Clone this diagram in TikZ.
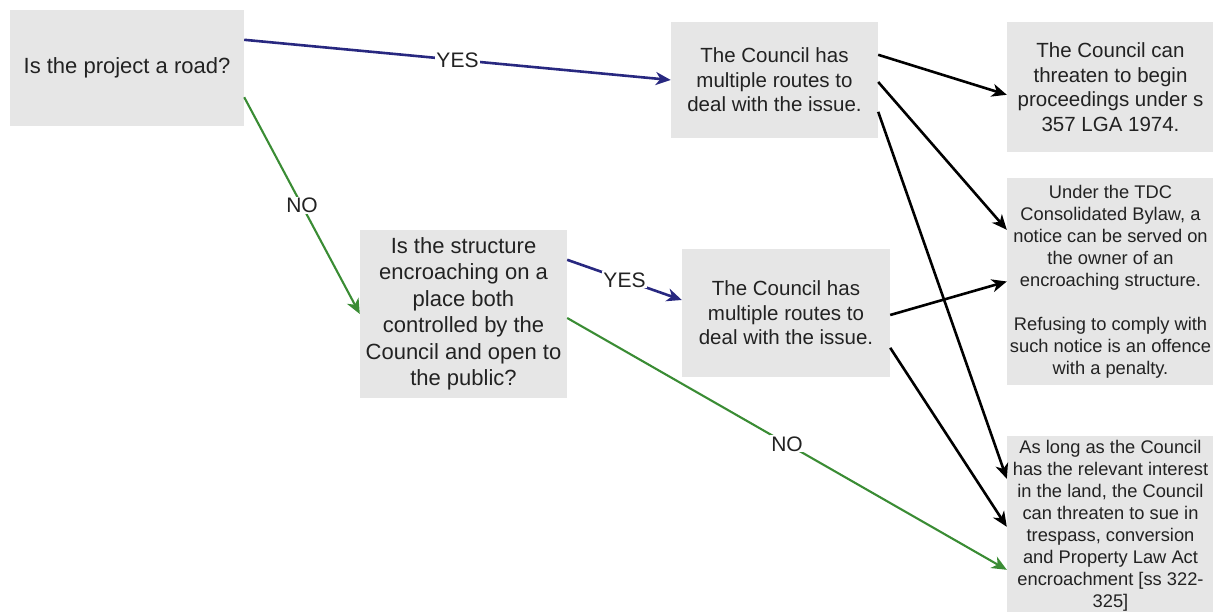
\documentclass[tikz,border=0pt]{standalone}
\usepackage{fontspec}
\setmainfont{Liberation Sans}
\usetikzlibrary{arrows.meta,calc}
\definecolor{boxfill}{RGB}{230,230,230}
\definecolor{yesblue}{RGB}{40,40,128}
\definecolor{nogreen}{RGB}{58,140,52}
\definecolor{txt}{RGB}{34,34,34}
\begin{document}
\begin{tikzpicture}[x=1pt,y=-1pt,
  box/.style={fill=boxfill,draw=none,inner sep=0pt,align=center,text=txt},
  bigf/.style={font=\fontsize{22}{26.5}\selectfont},
  midf/.style={font=\fontsize{20.5}{24.6}\selectfont},
  smallf/.style={font=\fontsize{18.3}{22}\selectfont},
  conn/.style={line width=2.6pt,-{Stealth[length=15pt,width=13pt,inset=4.5pt]}},
  yesarrow/.style={conn,draw=yesblue},
  noarrow/.style={conn,draw=nogreen,line width=2.1pt},
  plain/.style={conn,draw=black},
  lbl/.style={fill=white,inner sep=1pt,text=txt,font=\fontsize{21}{25}\selectfont}
]
\useasboundingbox (0,0) rectangle (1213,612);
\node[box,bigf,minimum width=234pt,minimum height=116pt] (A) at (127,68) {Is the project a road?};
\node[box,midf,minimum width=207pt,minimum height=116pt] (B) at (774.5,80) {The Council has\\multiple routes to\\deal with the issue.};
\node[box,midf,minimum width=207pt,minimum height=130pt] (C) at (1110.5,87) {The Council can\\threaten to begin\\proceedings under s\\357 LGA 1974.};
\node[box,smallf,minimum width=207pt,minimum height=207pt] (D) at (1110.5,281.5) {Under the TDC\\Consolidated Bylaw, a\\notice can be served on\\the owner of an\\encroaching structure.\\[22pt]Refusing to comply with\\such notice is an offence\\with a penalty.};
\node[box,bigf,minimum width=207pt,minimum height=168pt] (E) at (463.5,314) {Is the structure\\encroaching on a\\place both\\controlled by the\\Council and open to\\the public?};
\node[box,midf,minimum width=208pt,minimum height=128pt] (F) at (786,313) {The Council has\\multiple routes to\\deal with the issue.};
\node[box,smallf,minimum width=207pt,minimum height=180pt] (G) at (1110.5,526) {As long as the Council\\has the relevant interest\\in the land, the Council\\can threaten to sue in\\trespass, conversion\\and Property Law Act\\encroachment [ss 322-\\325]};

\draw[yesarrow] ($(A.north east)+(0,30)$) -- node[lbl] (l1) {YES} (B.west);
\draw[noarrow] ($(A.south east)+(0,-29)$) -- node[lbl] (l2) {NO} (E.west);
\draw[yesarrow] ($(E.north east)+(0,30)$) -- node[lbl] (l3) {YES} ($(F.west)+(0,-13)$);
\draw[noarrow] ($(E.east)+(0,4)$) -- node[lbl] (l4) {NO} ($(G.north west)+(0,134)$);
\draw[plain] ($(B.north east)+(0,33)$) -- ($(C.north west)+(0,73)$);
\draw[plain] ($(B.east)+(0,2)$) -- ($(D.north west)+(0,52)$);
\draw[plain] ($(B.north east)+(0,90)$) -- ($(G.north west)+(0,43)$);
\draw[plain] ($(F.east)+(0,2)$) -- (D.west);
\draw[plain] ($(F.north east)+(0,99)$) -- ($(G.north west)+(0,91)$);
\end{tikzpicture}
\end{document}
